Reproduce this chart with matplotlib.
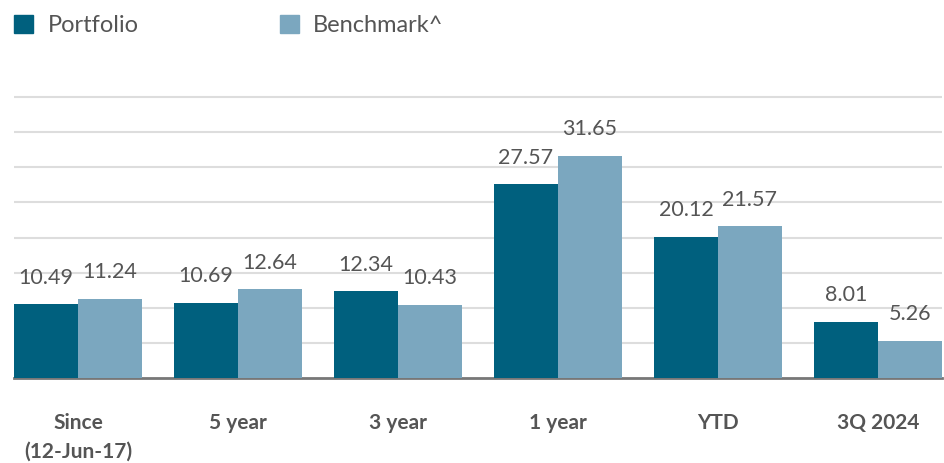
import numpy as np
import matplotlib.pyplot as plt
from matplotlib.patches import Rectangle

plt.rcParams['font.family'] = ['Lato', 'DejaVu Sans']

categories = ['Since\n(12-Jun-17)', '5 year', '3 year', '1 year', 'YTD', '3Q 2024']
portfolio = [10.49, 10.69, 12.34, 27.57, 20.12, 8.01]
benchmark = [11.24, 12.64, 10.43, 31.65, 21.57, 5.26]
series_names = ['Portfolio', 'Benchmark^']

c_port = '#00607e'
c_bench = '#7ba7bf'
txt = '#555555'

W, H = 945, 463
fig = plt.figure(figsize=(W / 100, H / 100), dpi=100)
ax = fig.add_axes([14 / W, 85 / H, 928 / W, 295 / H])

x = np.arange(len(categories))
w = 0.4
b1 = ax.bar(x - w / 2, portfolio, w, color=c_port, zorder=3)
b2 = ax.bar(x + w / 2, benchmark, w, color=c_bench, zorder=3)

for bars, vals in ((b1, portfolio), (b2, benchmark)):
    for r, v in zip(bars, vals):
        ax.annotate(f'{v:.2f}', (r.get_x() + r.get_width() / 2, v),
                    xytext=(0, 12), textcoords='offset points',
                    ha='center', va='bottom', fontsize=15.5, color=txt)

ax.set_xlim(-0.4, 5.4)
ax.set_ylim(0, 42)
ax.set_yticks(np.arange(5, 41, 5))
ax.yaxis.grid(True, color='#dddddd', linewidth=1.5, zorder=0)
ax.tick_params(axis='y', left=False, labelleft=False)
ax.tick_params(axis='x', length=0, pad=25)
ax.set_xticks(x)
ax.set_xticklabels(categories, fontsize=15, fontweight='bold', color=txt,
                   linespacing=1.55)
for s in ('top', 'right', 'left'):
    ax.spines[s].set_visible(False)
ax.spines['bottom'].set_color('#777777')
ax.spines['bottom'].set_linewidth(2)

# legend drawn by hand to match the original spacing
for (sx, tx), name, col in zip([(14, 48), (280, 313)], series_names, [c_port, c_bench]):
    fig.add_artist(Rectangle((sx / W, 1 - 33 / H), 19 / W, 18 / H,
                             transform=fig.transFigure, color=col))
    fig.text(tx / W, 1 - 25 / H, name, fontsize=17, color=txt, va='center', ha='left')

fig.savefig('out.png', dpi=100)
